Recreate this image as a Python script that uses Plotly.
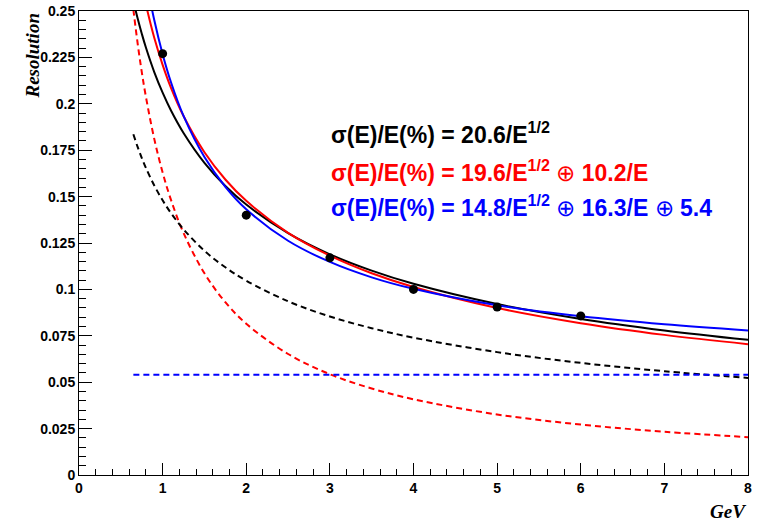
import plotly.graph_objects as go

# Measured points
energy = [1, 2, 3, 4, 5, 6]
resolution = [0.227, 0.140, 0.117, 0.100, 0.0905, 0.0857]

# Curves at these energies (GeV)
curve_e = [0.65, 0.7, 0.75, 0.8, 0.9, 1.0, 1.1, 1.25, 1.5, 1.75, 2.0, 2.5, 3.0, 3.5, 4.0, 5.0, 6.0, 7.0, 8.0]
fit_black = [0.2555, 0.2462, 0.2379, 0.2303, 0.2171, 0.2060, 0.1964, 0.1843, 0.1682, 0.1557,
             0.1457, 0.1303, 0.1189, 0.1101, 0.1030, 0.0921, 0.0841, 0.0779, 0.0728]
fit_red = [0.2893, 0.2759, 0.2640, 0.2535, 0.2356, 0.2210, 0.2086, 0.1934, 0.1739, 0.1592,
           0.1477, 0.1305, 0.1182, 0.1087, 0.1013, 0.0900, 0.0818, 0.0755, 0.0705]
fit_blue = [0.3154, 0.2974, 0.2817, 0.2680, 0.2451, 0.2267, 0.2116, 0.1935, 0.1713, 0.1553,
            0.1432, 0.1262, 0.1148, 0.1065, 0.1003, 0.0914, 0.0855, 0.0812, 0.0779]
term_stoch = [0.1836, 0.1769, 0.1709, 0.1655, 0.1560, 0.1480, 0.1411, 0.1324, 0.1208, 0.1119,
              0.1047, 0.0936, 0.0854, 0.0791, 0.0740, 0.0662, 0.0604, 0.0559, 0.0523]
term_noise = [0.2508, 0.2329, 0.2173, 0.2038, 0.1811, 0.1630, 0.1482, 0.1304, 0.1087, 0.0931,
              0.0815, 0.0652, 0.0543, 0.0466, 0.0408, 0.0326, 0.0272, 0.0233, 0.0204]
const_e = [0.65, 8.0]
term_const = [0.054, 0.054]

x_ticks = [0, 1, 2, 3, 4, 5, 6, 7, 8]
y_ticks = [0, 0.025, 0.05, 0.075, 0.1, 0.125, 0.15, 0.175, 0.2, 0.225, 0.25]
y_labels = ["0", "0.025", "0.05", "0.075", "0.1", "0.125", "0.15", "0.175", "0.2", "0.225", "0.25"]

OPLUS = '<span style="font-weight:normal">⊕</span>'
labels = [
    ("σ(E)/E(%) = 20.6/E<sup>1/2</sup>", "black"),
    ("σ(E)/E(%) = 19.6/E<sup>1/2</sup> " + OPLUS + " 10.2/E", "red"),
    ("σ(E)/E(%) = 14.8/E<sup>1/2</sup> " + OPLUS + " 16.3/E " + OPLUS + " 5.4", "blue"),
]

fig = go.Figure()

def add_line(x, y, color, dash=None):
    fig.add_trace(go.Scatter(x=x, y=y, mode="lines", line=dict(color=color, width=2, dash=dash, shape="spline"),
                             showlegend=False, hoverinfo="skip"))

add_line(curve_e, term_noise, "red", "6px,4px")
add_line(curve_e, term_stoch, "black", "6px,4px")
add_line(const_e, term_const, "blue", "6px,4px")
add_line(curve_e, fit_black, "black")
add_line(curve_e, fit_red, "red")
add_line(curve_e, fit_blue, "blue")

fig.add_trace(go.Scatter(x=energy, y=resolution, mode="markers",
                         marker=dict(color="black", size=9), showlegend=False))

W, H = 764, 521
L, T = 79, 11
pw, ph = 669, 464
R, B = W - L - pw, H - T - ph

def px2paper_x(px):
    return (px - L) / pw

def px2paper_y(py):
    return 1 - (py - T) / ph

tickfont = dict(family="Liberation Sans", size=14, color="black", weight="bold")

fig.update_layout(
    width=W, height=H,
    margin=dict(l=L, r=R, t=T, b=B, pad=0, autoexpand=False),
    plot_bgcolor="white", paper_bgcolor="white",
    xaxis=dict(range=[0, 8], tickvals=x_ticks, ticktext=[str(v) for v in x_ticks],
               ticks="inside", ticklen=12, tickwidth=1, tickcolor="black",
               minor=dict(dtick=0.2, ticks="inside", ticklen=6, tickcolor="black", tickwidth=1, showgrid=False),
               showline=True, linecolor="black", linewidth=1, mirror=True, automargin=False,
               ticklabeloverflow="allow",
               showgrid=False, zeroline=False, tickfont=tickfont),
    yaxis=dict(range=[0, 0.25], tickvals=y_ticks, ticktext=y_labels,
               ticks="inside", ticklen=13, tickwidth=1, tickcolor="black",
               minor=dict(dtick=0.005, ticks="inside", ticklen=7, tickcolor="black", tickwidth=1, showgrid=False),
               showline=True, linecolor="black", linewidth=1, mirror=True, automargin=False,
               ticklabeloverflow="allow",
               showgrid=False, zeroline=False, tickfont=tickfont),
)

titlefont = dict(family="Liberation Serif", size=19, color="black", weight="bold", style="italic")
fig.add_annotation(text="Resolution", xref="paper", yref="paper",
                   x=px2paper_x(32), y=px2paper_y(12), xanchor="center", yanchor="top",
                   textangle=-90, showarrow=False, font=titlefont)
fig.add_annotation(text="GeV", xref="paper", yref="paper",
                   x=px2paper_x(748), y=px2paper_y(511), xanchor="right", yanchor="middle",
                   showarrow=False, font=titlefont)

label_y = [133, 171, 206]
for (txt, col), py in zip(labels, label_y):
    fig.add_annotation(text=txt, xref="paper", yref="paper",
                       x=px2paper_x(329), y=px2paper_y(py), xanchor="left", yanchor="middle",
                       showarrow=False,
                       font=dict(family="Liberation Sans", size=23, color=col, weight="bold"))

fig.write_html("out.html", config={"displayModeBar": False},
               post_script="document.body.style.margin='0';")
